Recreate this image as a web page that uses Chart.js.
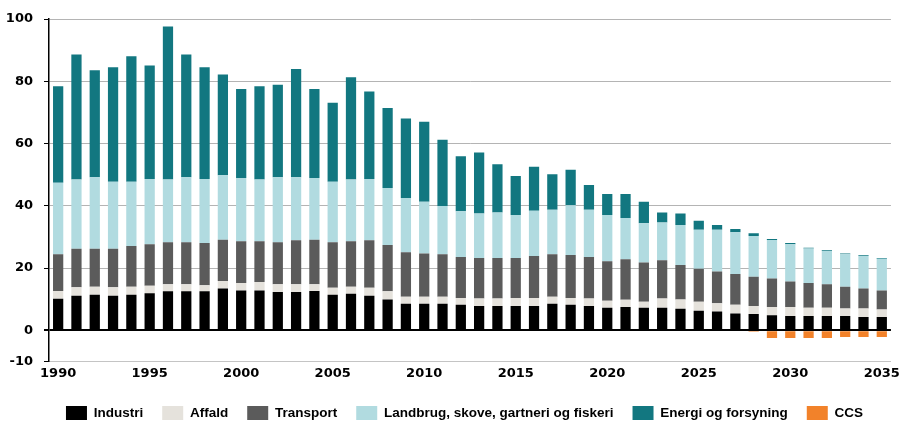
<!DOCTYPE html>
<html>
<head>
<meta charset="utf-8">
<script src="https://cdn.jsdelivr.net/npm/chart.js@4/dist/chart.umd.min.js"></script>
<style>
  body { margin: 0; background: #fff; }
  #wrap { width: 904px; height: 423px; }
</style>
</head>
<body>
<div id="wrap"><canvas id="udledningChart" width="904" height="423"></canvas></div>
<script>
// År 1990-2035
const aar = [];
for (let a = 1990; a <= 2035; a++) aar.push(String(a));

// Værdier (mio. ton CO2e)
const industri = [10.1, 11.1, 11.4, 11.1, 11.4, 11.9, 12.5, 12.5, 12.5, 13.4,
  12.8, 12.8, 12.3, 12.3, 12.6, 11.4, 11.7, 11.1, 9.9, 8.5,
  8.5, 8.5, 8.2, 7.8, 7.8, 7.8, 7.8, 8.5, 8.2, 7.8,
  7.2, 7.5, 7.2, 7.2, 6.9, 6.3, 6.0, 5.4, 5.2, 4.8,
  4.6, 4.6, 4.6, 4.6, 4.3, 4.3];
const affald = [2.5, 2.7, 2.6, 2.7, 2.6, 2.4, 2.3, 2.3, 2.0, 2.4,
  2.4, 2.7, 2.5, 2.5, 2.2, 2.3, 2.3, 2.6, 2.6, 2.3,
  2.3, 2.3, 2.2, 2.4, 2.4, 2.6, 2.6, 2.3, 2.2, 2.4,
  2.3, 2.3, 2.0, 3.0, 3.0, 2.9, 2.7, 2.8, 2.6, 2.7,
  2.9, 2.6, 2.6, 2.4, 2.7, 2.4];
const transport = [11.8, 12.4, 12.2, 12.4, 13.1, 13.3, 13.5, 13.5, 13.5, 13.3,
  13.4, 13.1, 13.5, 14.1, 14.3, 14.6, 14.6, 15.2, 14.9, 14.3,
  13.9, 13.6, 13.1, 13.0, 13.0, 12.8, 13.5, 13.6, 13.8, 13.3,
  12.7, 13.0, 12.6, 12.3, 11.1, 10.6, 10.2, 9.9, 9.4, 9.1,
  8.2, 8.0, 7.6, 7.0, 6.4, 6.1];
const landbrug = [23.0, 22.2, 23.0, 21.5, 20.6, 21.0, 20.1, 20.9, 20.6, 20.7,
  20.3, 19.8, 20.9, 20.3, 19.8, 19.4, 19.8, 19.7, 18.3, 17.4,
  16.6, 15.5, 14.7, 14.3, 14.6, 13.8, 14.5, 14.3, 16.0, 15.2,
  14.8, 13.3, 12.6, 12.1, 12.8, 12.5, 13.4, 13.4, 13.1, 12.4,
  11.9, 11.1, 10.7, 10.4, 10.5, 10.2];
const energi = [31.0, 40.2, 34.3, 36.8, 40.3, 36.5, 49.2, 39.4, 35.9, 32.4,
  28.6, 30.0, 29.7, 34.7, 28.6, 25.4, 32.9, 28.1, 25.7, 25.5,
  25.7, 21.3, 17.7, 19.6, 15.5, 12.6, 14.1, 11.4, 11.4, 8.0,
  6.8, 7.7, 6.9, 3.2, 3.7, 2.9, 1.5, 1.0, 0.9, 0.3,
  0.4, 0.2, 0.2, 0.3, 0.2, 0.2];
const ccs = [0, 0, 0, 0, 0, 0, 0, 0, 0, 0,
  0, 0, 0, 0, 0, 0, 0, 0, 0, 0,
  0, 0, 0, 0, 0, 0, 0, 0, 0, 0,
  0, 0, 0, 0, 0, 0, 0, 0, -0.5, -2.5,
  -2.5, -2.5, -2.5, -2.2, -2.2, -2.2];

const yTicks = [-10, 0, 20, 40, 60, 80, 100];

const serier = [
  { label: 'Industri', data: industri, color: '#000000' },
  { label: 'Affald', data: affald, color: '#e5e2dc' },
  { label: 'Transport', data: transport, color: '#5b5b5b' },
  { label: 'Landbrug, skove, gartneri og fiskeri', data: landbrug, color: '#b1dbe0' },
  { label: 'Energi og forsyning', data: energi, color: '#127780' },
  { label: 'CCS', data: ccs, color: '#f2822a' }
];

const tickFont = { family: '"DejaVu Sans", sans-serif', size: 13, weight: 'bold' };

// flytter legenden lidt til højre og ned, så den står som i originalen
const flytLegende = {
  id: 'flytLegende',
  afterLayout(chart) {
    const l = chart.legend;
    const dx = 18;
    const dy = 387 - l.top;
    l.left += dx; l.right += dx;
    l.top += dy; l.bottom += dy;
  }
};

const ctx = document.getElementById('udledningChart').getContext('2d');
new Chart(ctx, {
  type: 'bar',
  data: {
    labels: aar,
    datasets: serier.map(s => ({
      label: s.label,
      data: s.data,
      backgroundColor: s.color,
      borderWidth: 0,
      categoryPercentage: 1,
      barPercentage: 0.56
    }))
  },
  plugins: [flytLegende],
  options: {
    responsive: false,
    animation: false,
    layout: { padding: { left: 0, right: 11, top: 19, bottom: -5 } },
    plugins: {
      tooltip: { enabled: false },
      legend: {
        position: 'bottom',
        labels: {
          boxWidth: 21,
          boxHeight: 14,
          padding: 19,
          color: '#000',
          font: { family: '"Liberation Sans", Arial, sans-serif', size: 13.5, weight: 'bold' }
        }
      }
    },
    scales: {
      x: {
        stacked: true,
        grid: { display: false, drawTicks: false },
        border: { display: true, color: '#c4c4c4', width: 1 },
        ticks: {
          autoSkip: false,
          maxRotation: 0,
          padding: 4,
          color: '#000',
          font: tickFont,
          callback: function (v) {
            const lab = this.getLabelForValue(v);
            return Number(lab) % 5 === 0 ? lab : '';
          }
        }
      },
      y: {
        stacked: true,
        min: -10,
        max: 100,
        afterBuildTicks: axis => { axis.ticks = yTicks.map(v => ({ value: v })); },
        afterFit: axis => { axis.width = 49; },
        grid: {
          color: c => c.tick && c.tick.value === 0 ? '#000' : '#b4b4b4',
          lineWidth: c => c.tick && c.tick.value === 0 ? 2 : 1,
          tickColor: '#000',
          tickLength: 5
        },
        border: { display: true, color: '#000', width: 1.5 },
        ticks: {
          padding: 11,
          color: '#000',
          font: tickFont
        }
      }
    }
  }
});
</script>
</body>
</html>
